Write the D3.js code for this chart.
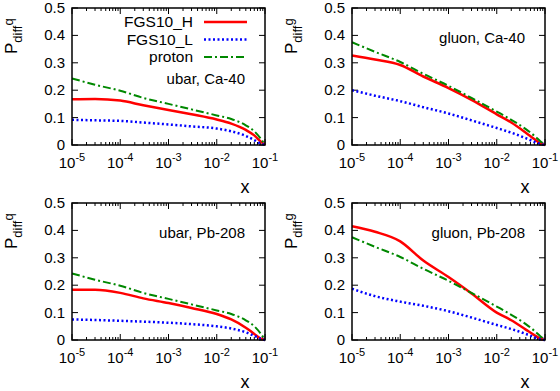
<!DOCTYPE html>
<html>
<head>
<meta charset="utf-8">
<script src="https://cdn.jsdelivr.net/npm/d3@7"></script>
<style>
  body { margin: 0; background: #fff; }
  svg { display: block; font-family: "Liberation Sans", Arial, sans-serif; }
</style>
</head>
<body>
<script>
// x grid shared by every curve
var xVals = [1e-5, 3e-5, 1e-4, 3e-4, 1e-3, 3e-3, 1e-2, 2e-2, 4e-2, 6e-2, 8e-2, 1e-1];

// proton curves (same in both ubar panels and both gluon panels)
var protonQ = [0.243, 0.220, 0.198, 0.172, 0.150, 0.130, 0.108, 0.095, 0.072, 0.050, 0.025, 0.0];
var protonG = [0.375, 0.340, 0.303, 0.260, 0.216, 0.172, 0.122, 0.092, 0.058, 0.034, 0.014, 0.0];

// ubar, Ca-40
var ubarCaH = [0.167, 0.168, 0.162, 0.145, 0.128, 0.112, 0.093, 0.078, 0.055, 0.035, 0.014, 0.0];
var ubarCaL = [0.092, 0.090, 0.088, 0.082, 0.075, 0.068, 0.060, 0.050, 0.033, 0.018, 0.006, 0.0];
// gluon, Ca-40
var gluonCaH = [0.327, 0.312, 0.292, 0.250, 0.208, 0.165, 0.112, 0.082, 0.045, 0.022, 0.006, 0.0];
var gluonCaL = [0.200, 0.180, 0.160, 0.138, 0.115, 0.090, 0.062, 0.045, 0.025, 0.012, 0.004, 0.0];
// ubar, Pb-208
var ubarPbH = [0.183, 0.183, 0.172, 0.152, 0.135, 0.117, 0.095, 0.075, 0.045, 0.022, 0.006, 0.0];
var ubarPbL = [0.075, 0.073, 0.070, 0.067, 0.063, 0.058, 0.050, 0.042, 0.028, 0.015, 0.005, 0.0];
// gluon, Pb-208
var gluonPbH = [0.415, 0.395, 0.360, 0.290, 0.230, 0.170, 0.100, 0.072, 0.038, 0.018, 0.005, 0.0];
var gluonPbL = [0.187, 0.160, 0.140, 0.125, 0.105, 0.082, 0.055, 0.040, 0.022, 0.010, 0.003, 0.0];

var seriesNames = ["FGS10_H", "FGS10_L", "proton"];
var yTicks = [0, 0.1, 0.2, 0.3, 0.4, 0.5];
var xTicks = [1e-5, 1e-4, 1e-3, 1e-2, 1e-1];
var xExp = ["-5", "-4", "-3", "-2", "-1"];

var panels = [
  {left: 72, top: 8, label: "ubar, Ca-40", sup: "q", H: ubarCaH, L: ubarCaL, P: protonQ, legend: true},
  {left: 352, top: 8, label: "gluon, Ca-40", sup: "g", H: gluonCaH, L: gluonCaL, P: protonG},
  {left: 72, top: 203, label: "ubar, Pb-208", sup: "q", H: ubarPbH, L: ubarPbL, P: protonQ},
  {left: 352, top: 203, label: "gluon, Pb-208", sup: "g", H: gluonPbH, L: gluonPbL, P: protonG}
];

var styles = [
  {color: "#ff0000", width: 2.5, dash: null},
  {color: "#0000ff", width: 2.5, dash: "2,2.5"},
  {color: "#008800", width: 2, dash: "8,3,2,3"}
];

var pw = 193, ph = 137;

var svg = d3.select("body").append("svg")
  .attr("width", 560)
  .attr("height", 391);

panels.forEach(function(p) {
  var g = svg.append("g").attr("transform", "translate(" + p.left + "," + p.top + ")");

  var x = d3.scaleLog().domain([1e-5, 1e-1]).range([0, pw]);
  var y = d3.scaleLinear().domain([0, 0.5]).range([ph, 0]);

  // minor x ticks (2..9 in each decade)
  var minor = [];
  for (var e = -5; e < -1; e++) {
    for (var m = 2; m <= 9; m++) minor.push(m * Math.pow(10, e));
  }
  g.selectAll(".mxb").data(minor).enter().append("line")
    .attr("x1", d => x(d)).attr("x2", d => x(d))
    .attr("y1", ph).attr("y2", ph - 3)
    .attr("stroke", "#000").attr("stroke-width", 1);
  g.selectAll(".mxt").data(minor).enter().append("line")
    .attr("x1", d => x(d)).attr("x2", d => x(d))
    .attr("y1", 0).attr("y2", 3)
    .attr("stroke", "#000").attr("stroke-width", 1);

  // major x ticks
  g.selectAll(".xb").data(xTicks).enter().append("line")
    .attr("x1", d => x(d)).attr("x2", d => x(d))
    .attr("y1", ph).attr("y2", ph - 6)
    .attr("stroke", "#000").attr("stroke-width", 1);
  g.selectAll(".xt").data(xTicks).enter().append("line")
    .attr("x1", d => x(d)).attr("x2", d => x(d))
    .attr("y1", 0).attr("y2", 6)
    .attr("stroke", "#000").attr("stroke-width", 1);

  // y ticks
  g.selectAll(".yl").data(yTicks).enter().append("line")
    .attr("x1", 0).attr("x2", 6)
    .attr("y1", d => y(d)).attr("y2", d => y(d))
    .attr("stroke", "#000").attr("stroke-width", 1);
  g.selectAll(".yr").data(yTicks).enter().append("line")
    .attr("x1", pw).attr("x2", pw - 6)
    .attr("y1", d => y(d)).attr("y2", d => y(d))
    .attr("stroke", "#000").attr("stroke-width", 1);

  // y tick labels
  g.selectAll(".ylab").data(yTicks).enter().append("text")
    .attr("x", -7).attr("y", d => y(d) + 5)
    .attr("text-anchor", "end")
    .attr("font-size", 15)
    .text(d => d === 0 ? "0" : d3.format(".1f")(d));

  // x tick labels
  xTicks.forEach(function(t, i) {
    var tx = g.append("text")
      .attr("x", x(t)).attr("y", ph + 23)
      .attr("text-anchor", "middle")
      .attr("font-size", 15);
    tx.append("tspan").text("10");
    tx.append("tspan").attr("dy", -7).attr("font-size", 11).text(xExp[i]);
  });

  // x axis title
  g.append("text")
    .attr("x", 173).attr("y", ph + 48)
    .attr("text-anchor", "middle")
    .attr("font-size", 18)
    .text("x");

  // y axis title P_diff^q
  var yt = g.append("text")
    .attr("transform", "translate(-55,46) rotate(-90)")
    .attr("font-size", 17);
  yt.append("tspan").text("P");
  yt.append("tspan").attr("dy", 5).attr("font-size", 13).text("diff");
  yt.append("tspan").attr("dy", -9).attr("dx", 0).attr("font-size", 13).text(p.sup);

  // curves
  var line = d3.line()
    .x(d => x(d[0]))
    .y(d => y(d[1]))
    .curve(d3.curveMonotoneX);

  [p.H, p.L, p.P].forEach(function(vals, k) {
    var pts = xVals.map((xv, j) => [xv, vals[j]]);
    g.append("path")
      .datum(pts)
      .attr("d", line)
      .attr("fill", "none")
      .attr("stroke", styles[k].color)
      .attr("stroke-width", styles[k].width)
      .attr("stroke-dasharray", styles[k].dash);
  });

  // frame
  g.append("rect")
    .attr("width", pw).attr("height", ph)
    .attr("fill", "none")
    .attr("stroke", "#000").attr("stroke-width", 1.5);

  // legend
  var labelY = 35;
  if (p.legend) {
    seriesNames.forEach(function(name, k) {
      var ly = 14 + k * 17.5;
      g.append("text")
        .attr("x", 121).attr("y", ly + 5)
        .attr("text-anchor", "end")
        .attr("font-size", 15.5)
        .text(name);
      g.append("line")
        .attr("x1", 132).attr("x2", 175)
        .attr("y1", ly).attr("y2", ly)
        .attr("stroke", styles[k].color)
        .attr("stroke-width", styles[k].width)
        .attr("stroke-dasharray", styles[k].dash);
    });
    labelY = 76;
  }
  g.append("text")
    .attr("x", 173).attr("y", labelY)
    .attr("text-anchor", "end")
    .attr("font-size", 15)
    .text(p.label);
});
</script>
</body>
</html>
